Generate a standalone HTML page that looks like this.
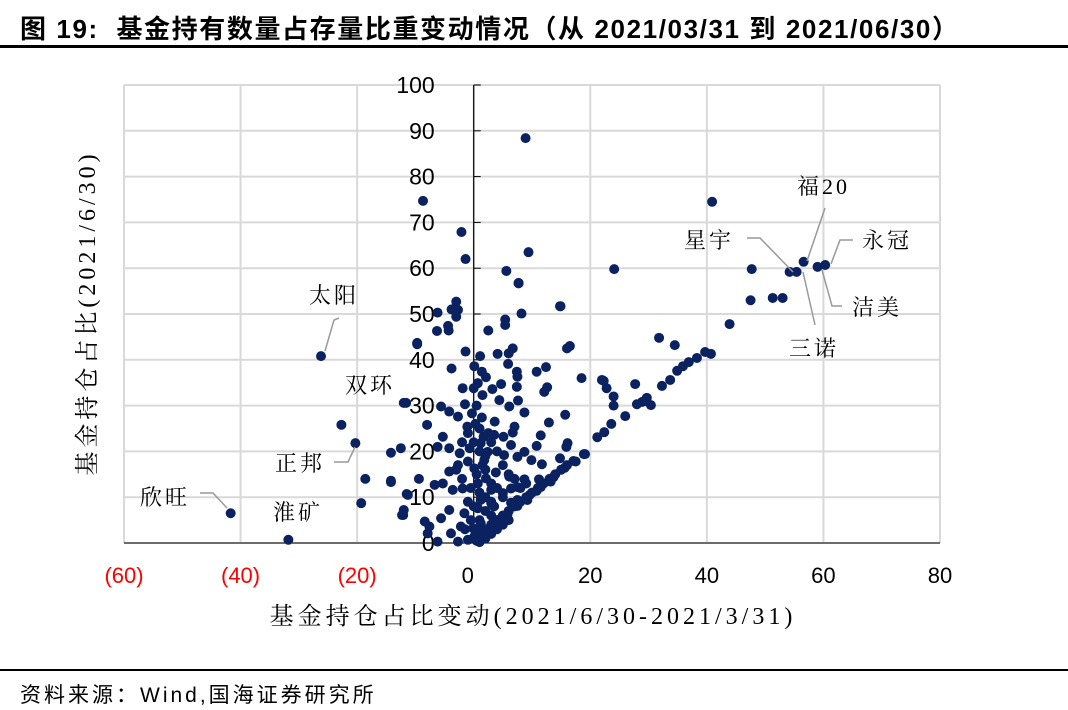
<!DOCTYPE html>
<html><head><meta charset="utf-8"><style>
body{margin:0;background:#fff;width:1068px;height:710px;overflow:hidden;position:relative;font-family:"Liberation Sans","Noto Sans CJK SC",sans-serif}
.t{position:absolute}
</style></head><body>
<div class="t" style="left:20px;top:9px;font-size:26px;font-weight:bold;letter-spacing:1.6px;white-space:nowrap">图 19:&nbsp; 基金持有数量占存量比重变动情况（从 2021/03/31 到 2021/06/30）</div>
<div class="t" style="left:0;top:45px;width:1068px;height:3px;background:#000"></div>
<svg class="t" style="left:0;top:0" width="1068" height="710" id="chart"></svg>
<div class="t" style="left:0;top:669px;width:1068px;height:2px;background:#000"></div>
<div class="t" style="left:20px;top:679px;font-size:21px;letter-spacing:3px;white-space:nowrap">资料来源：Wind,国海证券研究所</div>
<script>
const xs=[-41.7,-31.8,-26.2,-22.7,-20.3,-18.6,-19.3,-14.2,-14.2,-11.6,-11.5,-12.1,-8.7,-9.7,-2.1,-1.4,8.9,9.4,5.6,7.7,14.9,24.1,40.9,56.6,55.4,54.2,59,60.3,47.7,47.5,51.3,53,43.9,31.8,34.5,
40.7,39.7,38.3,36.9,35.9,34.9,33.7,32.3,29.7,28.9,28,26,23.6,22.4,21.2,19.1,17.1,15.6,13.7,11.5,9.6,7.5,5.8,4.1,2.4,1,
22,27.7,24,24,30.4,29.5,22.8,
7.7,14.8,8.2,-6.2,-3,-3.8,-2.7,-3,-6.3,-4.3,-4.4,5.4,5.4,2.5,-9.7,-1.4,1.1,4.1,6.7,6,5.9,-3.8,0.1,1.4,2.1,7.4,7.5,10.8,12.4,12.1,12.6,16,16.5,18.5,22.3,-1.9,0,0.7,4.7,3.2,7.4,1.5,4.4,6.1,7.6,8.7,-12,-5.6,-4.2,-2.7,-1.5,-0.3,1.4,3.6,-8,-1.1,1.7,3.5,5.1,7,6.7,11.5,12.9,15.7,-5.3,-6.2,-12.5,-4.2,-2.4,-0.7,1.2,2.4,5.2,6.4,7.5,8.7,9.9,10.8,11.7,14.8,16.1,15.9,18.9,17.5,-4.2,-2.7,-1,0.1,1.8,3.8,6.1,8.7,10.8,11.2,13.2,-14.2,-9.4,-6.7,-5.3,-3.6,-1.9,0.7,2.1,3,5,6.4,7.5,-11.3,-12,-12.3,-8.4,-7.6,-5.6,-4.2,-1.6,0.7,1.2,3,6.4,7.5,9.2,-7.9,-6.2,-3.9,-2.7,-1,0.1,1.2,4.1,-2.2,-0.1,
1,2,3,1,2,3,0.5,1.5,2.5,4,3,2,4,1,3,5,6,7,8,9,10,5,6,4,3,2,0.5,1,0,0.5,1.5,2,1,0,-0.5,-1,-2,-3,-2,-1,0.3,0.5,1,2.5,3,4,5,6,7,8,9,11,12,13,14,15,16,-0.5,-1.5,2,3.5,5];
const ys=[6.5,0.7,40.8,25.8,21.8,14,8.7,19.7,13.3,30.6,10.7,6.1,74.7,43.7,67.9,62,88.4,63.5,59.4,56.8,51.7,59.8,74.5,61.4,59.2,59.2,60.3,60.7,59.8,53,53.5,53.5,47.8,44.8,43.2,
41.3,41.7,40.4,39.5,38.6,37.6,35.6,34.3,31.7,30.8,30.3,27.7,26,24.2,23.1,19.4,17.9,16.4,14.4,12.2,10.5,8.1,6.3,4.6,2.8,1.3,
35.6,34.7,32,30,30.1,31,33.8,
56.7,51.7,50.1,50.3,52.7,51,50.9,49.4,46.3,46.4,47.4,48.8,47.6,46.4,43.4,41.8,40.8,41.3,42.5,41.4,39.1,38.1,38.6,37.4,36.2,37.4,36.3,37.4,38.4,33,34,42.5,43,36,35.4,33.8,33.8,34.9,34.7,33.6,34.1,32.3,31.2,29.8,31.1,28.5,30.6,29.8,28.7,27.6,30.3,28.3,27.4,26.5,25.8,25.4,23.2,23.6,23.2,25.4,24.1,23.5,26.3,28,23.2,21,20.7,20.7,19.6,20.7,21.8,19.9,19.2,21.4,18.8,19.9,18.1,21.2,17.2,18.5,21.8,21,19.4,17.8,15.6,17,17.8,16.3,18.1,15.4,14.5,13.9,11.4,13.9,13.4,13.6,14,12.7,13,11.6,11.9,13,14.1,11.6,10.9,11.9,12.2,10.5,7.2,6.1,4.7,3.6,5.4,7.2,6.5,7.6,9.4,8.7,8.8,9.4,9.4,2.1,0.3,2.1,0.3,0.7,1.4,4.3,5,3.6,3.2,
2,3,4,5,7,9,3,1,2,5,6,10,12,11,13,6,7,8,9,10,11,4,5,3,2,1,0.5,0.2,8,15,17,19,20,22,12,9,14,16,22,24,26,30,25,24,22,20,17,15,14,12,13,12,13,14,15,16,17,5,3,16,8,10];
const xTicks=[-60,-40,-20,0,20,40,60,80];
const xTickLabels=["(60)","(40)","(20)","0","20","40","60","80"];
const yTicks=[0,10,20,30,40,50,60,70,80,90,100];
const X0=124,X1=940,Y0=543,Y1=85,xmin=-60,xmax=80,ymin=0,ymax=100;
const sx=v=>X0+(v-xmin)/(xmax-xmin)*(X1-X0);
const sy=v=>Y0-(v-ymin)/(ymax-ymin)*(Y0-Y1);
const NS="http://www.w3.org/2000/svg",svg=document.getElementById('chart');
function mk(t,a){const e=document.createElementNS(NS,t);for(const k in a)e.setAttribute(k,a[k]);svg.appendChild(e);return e;}
yTicks.forEach(v=>{const l=mk('line',{x1:X0,x2:X1,y1:sy(v),y2:sy(v),stroke:'#d9d9d9','stroke-width':2});

});
xTicks.forEach(v=>{const l=mk('line',{x1:sx(v),x2:sx(v),y1:Y1,y2:Y0,stroke:'#d9d9d9','stroke-width':2});

});
yTicks.forEach(v=>{const t=mk('text',{x:sx(0)-39,y:sy(v)+8,'text-anchor':'end','font-size':23,'font-family':'Liberation Sans, sans-serif'});t.textContent=v;

});
const ya=mk('line',{x1:sx(0),x2:sx(0),y1:Y1,y2:Y0,stroke:'#000','stroke-width':1.2});


const xa=mk('line',{x1:X0,x2:X1,y1:Y0,y2:Y0,stroke:'#000','stroke-width':1});


yTicks.forEach(v=>{const tk=mk('line',{x1:sx(0),x2:sx(0)+7,y1:sy(v),y2:sy(v),stroke:'#000'});

});
xTicks.forEach((v,i)=>{const t=mk('text',{x:sx(v)-(v===0?6:0),y:583,'text-anchor':'middle','font-size':22,fill:v<0?'#ff0000':'#000','font-family':'Liberation Sans, sans-serif'});t.textContent=xTickLabels[i];

});
xs.forEach((x,i)=>{const c=mk('circle',{cx:sx(x),cy:sy(ys[i]),r:5,fill:'#0b2260'});

});
const serif='Liberation Serif, Noto Serif CJK SC, serif';
const anns=[["欣旺",140,505,[[200,493],[213,493],[227,508]]],["淮矿",273,520,null],["正邦",275,471,[[334,462],[348,462],[355,447]]],["双环",345,393,null],["太阳",309,303,[[339,318],[334,320],[325,351]]],["星宇",684,248,[[747,238],[760,238],[793,272]]],["福20",797,194,[[825,208],[807,261]]],["永冠",862,248,[[853,240],[840,240],[831,264]]],["洁美",852,315,[[822,270],[832,306],[842,306]]],["三诺",789,356,[[803,272],[815,325]]]];
anns.forEach(a=>{const t=mk('text',{x:a[1],y:a[2],'font-size':22,'font-family':serif,'letter-spacing':3});t.textContent=a[0];


if(a[3]){const p=mk('polyline',{points:a[3].map(q=>q.join(',')).join(' '),fill:'none',stroke:'#999','stroke-width':1.5});

}});
const xt=mk('text',{x:533,y:624,'text-anchor':'middle','font-size':24,'letter-spacing':4,'font-family':serif});xt.textContent='基金持仓占比变动(2021/6/30-2021/3/31)';


const yt=mk('text',{x:0,y:0,'text-anchor':'middle','font-size':24,'letter-spacing':4,'font-family':serif,transform:'translate(95,313) rotate(-90)'});yt.textContent='基金持仓占比(2021/6/30)';


</script>
</body></html>
